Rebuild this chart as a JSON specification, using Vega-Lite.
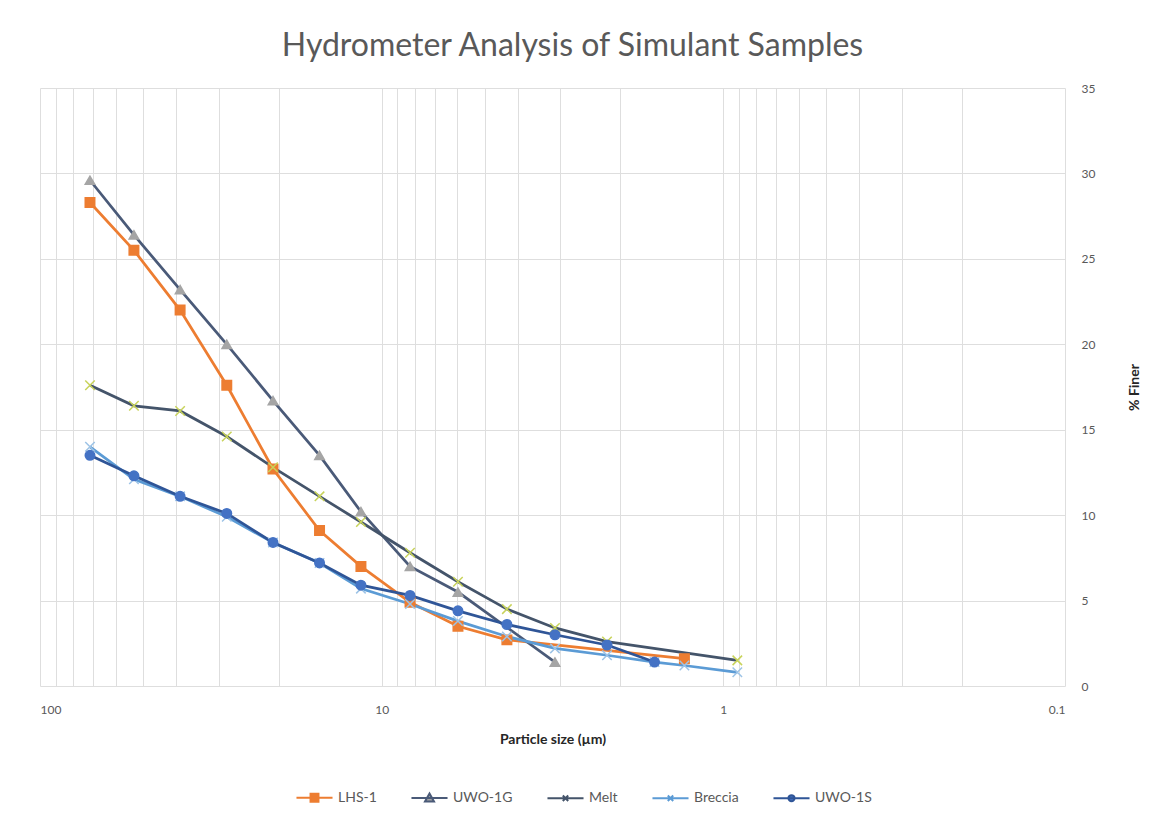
{
  "$schema": "https://vega.github.io/schema/vega-lite/v6.json",
  "width": 1025,
  "height": 598,
  "autosize": {"type": "none"},
  "padding": {"left": 40, "top": 88, "right": 87, "bottom": 134},
  "background": "white",
  "title": {
    "text": "Hydrometer Analysis of Simulant Samples",
    "font": "Lato",
    "fontSize": 32,
    "fontWeight": "normal",
    "color": "#595959",
    "anchor": "middle",
    "offset": 19,
    "dx": 20
  },
  "config": {
    "view": {"stroke": null},
    "axis": {
      "labelFont": "Lato",
      "labelFontSize": 12,
      "labelColor": "#595959",
      "titleFont": "Lato",
      "titleFontSize": 14,
      "titleFontWeight": "bold",
      "titleColor": "#262626",
      "gridColor": "#DEDEDE",
      "gridWidth": 1,
      "ticks": false,
      "domain": false
    },
    "legend": {"labelFont": "Lato", "labelFontSize": 14, "labelColor": "#595959"}
  },
  "data": {
    "values": [
      {"series": "LHS-1", "size": 71.4, "finer": 28.3},
      {"series": "LHS-1", "size": 53.1, "finer": 25.5},
      {"series": "LHS-1", "size": 38.9, "finer": 22.0},
      {"series": "LHS-1", "size": 28.4, "finer": 17.6},
      {"series": "LHS-1", "size": 20.8, "finer": 12.7},
      {"series": "LHS-1", "size": 15.2, "finer": 9.1},
      {"series": "LHS-1", "size": 11.5, "finer": 7.0},
      {"series": "LHS-1", "size": 8.26, "finer": 4.9},
      {"series": "LHS-1", "size": 5.98, "finer": 3.5},
      {"series": "LHS-1", "size": 4.30, "finer": 2.7},
      {"series": "LHS-1", "size": 1.30, "finer": 1.6},
      {"series": "UWO-1G", "size": 71.4, "finer": 29.6},
      {"series": "UWO-1G", "size": 53.1, "finer": 26.4},
      {"series": "UWO-1G", "size": 38.9, "finer": 23.2},
      {"series": "UWO-1G", "size": 28.4, "finer": 20.0},
      {"series": "UWO-1G", "size": 20.8, "finer": 16.7},
      {"series": "UWO-1G", "size": 15.2, "finer": 13.5},
      {"series": "UWO-1G", "size": 11.5, "finer": 10.2},
      {"series": "UWO-1G", "size": 8.26, "finer": 7.0},
      {"series": "UWO-1G", "size": 5.98, "finer": 5.5},
      {"series": "UWO-1G", "size": 3.11, "finer": 1.4},
      {"series": "Melt", "size": 71.4, "finer": 17.6},
      {"series": "Melt", "size": 53.1, "finer": 16.4},
      {"series": "Melt", "size": 38.9, "finer": 16.1},
      {"series": "Melt", "size": 28.4, "finer": 14.6},
      {"series": "Melt", "size": 20.8, "finer": 12.8},
      {"series": "Melt", "size": 15.2, "finer": 11.1},
      {"series": "Melt", "size": 11.5, "finer": 9.6},
      {"series": "Melt", "size": 8.26, "finer": 7.8},
      {"series": "Melt", "size": 5.98, "finer": 6.1},
      {"series": "Melt", "size": 4.30, "finer": 4.5},
      {"series": "Melt", "size": 3.11, "finer": 3.4},
      {"series": "Melt", "size": 2.19, "finer": 2.6},
      {"series": "Melt", "size": 0.91, "finer": 1.5},
      {"series": "Breccia", "size": 71.4, "finer": 14.0},
      {"series": "Breccia", "size": 53.1, "finer": 12.1},
      {"series": "Breccia", "size": 38.9, "finer": 11.1},
      {"series": "Breccia", "size": 28.4, "finer": 9.9},
      {"series": "Breccia", "size": 20.8, "finer": 8.4},
      {"series": "Breccia", "size": 15.2, "finer": 7.2},
      {"series": "Breccia", "size": 11.5, "finer": 5.7},
      {"series": "Breccia", "size": 8.26, "finer": 4.8},
      {"series": "Breccia", "size": 5.98, "finer": 3.8},
      {"series": "Breccia", "size": 4.30, "finer": 2.9},
      {"series": "Breccia", "size": 3.11, "finer": 2.2},
      {"series": "Breccia", "size": 2.19, "finer": 1.8},
      {"series": "Breccia", "size": 1.59, "finer": 1.4},
      {"series": "Breccia", "size": 1.30, "finer": 1.2},
      {"series": "Breccia", "size": 0.91, "finer": 0.8},
      {"series": "UWO-1S", "size": 71.4, "finer": 13.5},
      {"series": "UWO-1S", "size": 53.1, "finer": 12.3},
      {"series": "UWO-1S", "size": 38.9, "finer": 11.1},
      {"series": "UWO-1S", "size": 28.4, "finer": 10.1},
      {"series": "UWO-1S", "size": 20.8, "finer": 8.4},
      {"series": "UWO-1S", "size": 15.2, "finer": 7.2},
      {"series": "UWO-1S", "size": 11.5, "finer": 5.9},
      {"series": "UWO-1S", "size": 8.26, "finer": 5.3},
      {"series": "UWO-1S", "size": 5.98, "finer": 4.4},
      {"series": "UWO-1S", "size": 4.30, "finer": 3.6},
      {"series": "UWO-1S", "size": 3.11, "finer": 3.0},
      {"series": "UWO-1S", "size": 2.19, "finer": 2.4},
      {"series": "UWO-1S", "size": 1.59, "finer": 1.4}
    ]
  },
  "encoding": {
    "x": {
      "field": "size",
      "type": "quantitative",
      "title": "Particle size (µm)",
      "scale": {"type": "log", "domain": [0.1, 100], "reverse": true, "nice": false},
      "axis": {
        "values": [0.1, 0.2, 0.3, 0.4, 0.5, 0.6, 0.7, 0.8, 0.9, 1, 2, 3, 4, 5, 6, 7, 8, 9, 10, 20, 30, 40, 50, 60, 70, 80, 90, 100],
        "labelExpr": "datum.value == 100 ? '100' : datum.value == 10 ? '10' : datum.value == 1 ? '1' : abs(datum.value - 0.1) < 1e-9 ? '0.1' : ''",
        "labelOverlap": false,
        "labelPadding": 18,
        "titlePadding": 17
      }
    },
    "y": {
      "field": "finer",
      "type": "quantitative",
      "title": "% Finer",
      "scale": {"domain": [0, 35], "nice": false},
      "axis": {
        "orient": "right",
        "values": [0, 5, 10, 15, 20, 25, 30, 35],
        "labelPadding": 16,
        "titlePadding": 47,
        "titleAngle": 270
      }
    }
  },
  "resolve": {"scale": {"shape": "independent", "fill": "independent", "stroke": "independent"}, "legend": {"shape": "independent", "fill": "independent", "stroke": "independent"}},
  "layer": [
    {
      "mark": {"type": "line", "strokeWidth": 2.75},
      "encoding": {
        "color": {
          "field": "series",
          "type": "nominal",
          "scale": {
            "domain": ["LHS-1", "UWO-1G", "Melt", "Breccia", "UWO-1S"],
            "range": ["#ED7D31", "#4A5A78", "#44546A", "#5B9BD5", "#2F5597"]
          },
          "legend": {
            "title": null,
            "orient": "none",
            "direction": "horizontal",
            "legendX": 255,
            "legendY": 690,
            "columnPadding": 30,
            "symbolType": "M-1,0H1M-0.25,-0.25H0.25V0.25H-0.25Z",
            "symbolSize": 1300,
            "symbolStrokeWidth": 2,
            "labelOffset": 4,
            "encode": {
              "symbols": {
                "update": {
                  "shape": {"signal": "datum.value === 'LHS-1' ? 'M-1,0H1M-0.22,-0.22H0.22V0.22H-0.22Z' : datum.value === 'UWO-1G' ? 'M-1,0H1M0,-0.25L0.25,0.2H-0.25Z' : datum.value === 'UWO-1S' ? 'M-1,0H1M-0.17,0A0.17,0.17,0,1,0,0.17,0A0.17,0.17,0,1,0,-0.17,0Z' : 'M-1,0H1M-0.15,-0.15L0.15,0.15M-0.15,0.15L0.15,-0.15'"},
                  "fill": {"signal": "datum.value === 'LHS-1' ? '#ED7D31' : datum.value === 'UWO-1G' ? '#A5A5A5' : datum.value === 'UWO-1S' ? '#4472C4' : 'transparent'"}
                }
              }
            }
          }
        },
        "order": {"field": "size", "sort": "descending"}
      }
    },
    {
      "mark": {"type": "point", "filled": true, "opacity": 1, "size": 90, "strokeWidth": 1.5},
      "encoding": {
        "fill": {
          "field": "series",
          "type": "nominal",
          "scale": {
            "domain": ["LHS-1", "UWO-1G", "Melt", "Breccia", "UWO-1S"],
            "range": ["#ED7D31", "#A5A5A5", "#C8D35A", "#9DC3E6", "#4472C4"]
          },
          "legend": null
        },
        "stroke": {
          "field": "series",
          "type": "nominal",
          "scale": {
            "domain": ["LHS-1", "UWO-1G", "Melt", "Breccia", "UWO-1S"],
            "range": ["#ED7D31", "#A5A5A5", "#C8D35A", "#9DC3E6", "#4472C4"]
          },
          "legend": null
        },
        "shape": {
          "field": "series",
          "type": "nominal",
          "scale": {
            "domain": ["LHS-1", "UWO-1G", "Melt", "Breccia", "UWO-1S"],
            "range": ["square", "triangle-up", "M-1,-1L1,1M-1,1L1,-1", "M-1,-1L1,1M-1,1L1,-1", "circle"]
          },
          "legend": null
        }
      }
    }
  ]
}
